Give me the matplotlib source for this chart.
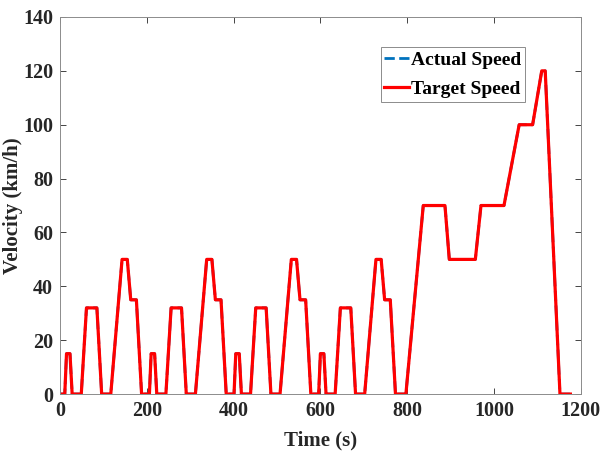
import matplotlib
matplotlib.use("Agg")
import matplotlib.pyplot as plt

# NEDC-like profile: time (s) and speed (km/h) breakpoints
time_s = [0, 11, 15, 23, 28, 49, 61, 85, 96, 117, 143, 155, 163, 176, 188,
          195, 206, 210, 218, 223, 244, 256, 280, 291, 312, 338, 350, 358, 371, 383,
          390, 401, 405, 413, 418, 439, 451, 475, 486, 507, 533, 545, 553, 566, 578,
          585, 596, 600, 608, 613, 634, 646, 670, 681, 702, 728, 740, 748, 761, 773,
          780, 797, 837, 887, 897, 957, 970, 1023, 1058, 1089, 1110, 1118, 1152, 1176]
target_speed = [0, 0, 15, 15, 0, 0, 32, 32, 0, 0, 50, 50, 35, 35, 0,
                0, 0, 15, 15, 0, 0, 32, 32, 0, 0, 50, 50, 35, 35, 0,
                0, 0, 15, 15, 0, 0, 32, 32, 0, 0, 50, 50, 35, 35, 0,
                0, 0, 15, 15, 0, 0, 32, 32, 0, 0, 50, 50, 35, 35, 0,
                0, 0, 70, 70, 50, 50, 70, 70, 100, 100, 120, 120, 0, 0]
actual_speed = list(target_speed)  # hidden beneath the target curve

x_ticks = [0, 200, 400, 600, 800, 1000, 1200]
y_ticks = [0, 20, 40, 60, 80, 100, 120, 140]

plt.rcParams['font.family'] = ['Liberation Serif', 'DejaVu Serif']
plt.rcParams['font.weight'] = 'bold'

fig = plt.figure(figsize=(6.0, 4.54), dpi=100)
ax = fig.add_axes([0.1, 0.132, 0.868, 0.8306])

ax.plot(time_s, actual_speed, color='#0072BD', linestyle='--', linewidth=2.0,
        label='Actual Speed')
ax.plot(time_s, target_speed, color='#FF0000', linestyle='-', linewidth=2.3,
        label='Target Speed')

ax.set_xlim(0, 1200)
ax.set_ylim(0, 140)
ax.set_xticks(x_ticks)
ax.set_yticks(y_ticks)
ax.tick_params(direction='in', top=True, right=True, length=4, width=0.6,
               colors='#262626', labelsize=14.5, pad=5)
for lab in ax.get_xticklabels() + ax.get_yticklabels():
    lab.set_fontweight('bold')
    lab.set_color('#262626')
for sp in ax.spines.values():
    sp.set_color('#8c8c8c')
    sp.set_linewidth(0.7)

ax.set_xlabel('Time (s)', fontsize=15, fontweight='bold', color='#262626', labelpad=7)
ax.set_ylabel('Velocity (km/h)', fontsize=15, fontweight='bold', color='#262626')
ax.yaxis.set_label_coords(-0.071, 0.5)

leg = ax.legend(loc='upper right', bbox_to_anchor=(0.8925, 0.92),
                prop={'weight': 'bold', 'size': 14}, fancybox=False, framealpha=1,
                edgecolor='#8c8c8c', handlelength=1.25, handletextpad=0.1,
                borderpad=0.2, labelspacing=0.6, borderaxespad=0)
leg.get_frame().set_linewidth(0.7)

fig.savefig('out.png', dpi=100)
